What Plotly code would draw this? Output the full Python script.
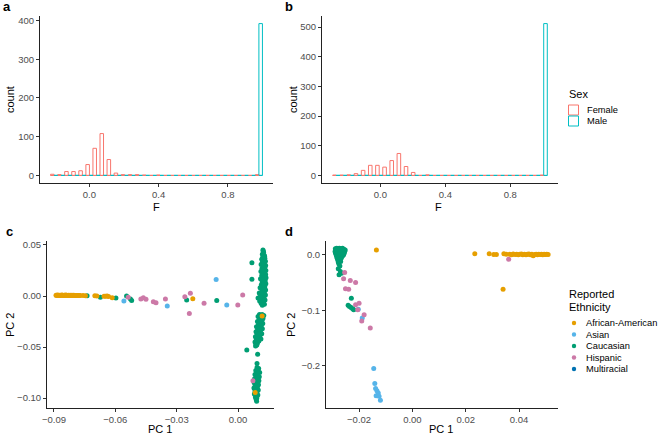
import numpy as np
import plotly.graph_objects as go

W, H = 659, 436
FONT = "Liberation Sans, Arial, Helvetica, sans-serif"
FEMALE_C = "#F8766D"
MALE_C = "#00BFC4"

# ---------------- Panel a / b : histograms of F (30 bins, dodged by Sex) -------------
a_lo, a_hi = -0.224, 0.999          # bar extent
a_female = [3, 2, 10, 10, 12, 28, 70, 108, 41, 6, 2, 2, 2, 1, 0, 1, 0, 0, 0, 0,
            0, 0, 0, 0, 0, 0, 0, 0, 0, 2]
a_male = [0] * 29 + [392]

b_lo, b_hi = -0.294, 1.028
b_female = [1, 1, 2, 6, 17, 34, 34, 28, 50, 74, 30, 10, 0, 2, 0, 0, 0, 0, 0, 0,
            0, 0, 0, 0, 0, 0, 0, 0, 0, 1]
b_male = [0] * 29 + [512]

# ---------------- Panel c : PC1 vs PC2 ---------------------------------------------
c_cauc = [
    # upper vertical cluster
    (0.0122, 0.045), (0.0125, 0.043), (0.0119, 0.041), (0.0128, 0.040), (0.0121, 0.038),
    (0.0131, 0.037), (0.0116, 0.036), (0.0126, 0.035), (0.0134, 0.034), (0.0119, 0.033),
    (0.0128, 0.032), (0.0113, 0.031), (0.0135, 0.030), (0.0123, 0.029), (0.0131, 0.028),
    (0.0117, 0.027), (0.0126, 0.026), (0.0136, 0.025), (0.0112, 0.024), (0.0129, 0.023),
    (0.0121, 0.022), (0.0135, 0.021), (0.0116, 0.020), (0.0127, 0.019), (0.0137, 0.018),
    (0.0110, 0.017), (0.0124, 0.016), (0.0133, 0.015), (0.0118, 0.014), (0.0128, 0.013),
    (0.0136, 0.012), (0.0114, 0.011), (0.0122, 0.010), (0.0131, 0.009), (0.0108, 0.008),
    (0.0126, 0.007), (0.0135, 0.006), (0.0117, 0.005), (0.0129, 0.004), (0.0104, 0.003),
    (0.0121, 0.002), (0.0134, 0.001), (0.0112, 0.000), (0.0127, -0.001), (0.0098, -0.002),
    (0.0118, -0.003), (0.0132, -0.004), (0.0106, -0.005), (0.0124, -0.006), (0.0113, -0.007),
    (0.0129, -0.008), (0.0119, -0.009), (0.0123, 0.044), (0.0130, 0.039), (0.0124, 0.031),
    (0.0120, 0.025), (0.0132, 0.019), (0.0125, 0.011), (0.0115, 0.003), (0.0108, -0.001),
    # middle cluster
    (0.0105, -0.018), (0.0118, -0.018), (0.0126, -0.019), (0.0098, -0.020), (0.0112, -0.021),
    (0.0122, -0.022), (0.0104, -0.023), (0.0117, -0.024), (0.0095, -0.025), (0.0110, -0.026),
    (0.0121, -0.027), (0.0100, -0.028), (0.0114, -0.029), (0.0090, -0.030), (0.0106, -0.031),
    (0.0119, -0.032), (0.0096, -0.033), (0.0110, -0.034), (0.0088, -0.035), (0.0103, -0.036),
    (0.0116, -0.037), (0.0093, -0.038), (0.0107, -0.039), (0.0085, -0.040), (0.0099, -0.041),
    (0.0112, -0.042), (0.0089, -0.043), (0.0102, -0.044), (0.0083, -0.045), (0.0095, -0.046),
    (0.0087, -0.047), (0.0092, -0.048), (0.0086, -0.049), (0.0109, -0.025), (0.0101, -0.032),
    (0.0094, -0.040), (0.0113, -0.020), (0.0108, -0.037),
    # lower cluster
    (0.0093, -0.070), (0.0101, -0.071), (0.0087, -0.073), (0.0098, -0.074), (0.0106, -0.075),
    (0.0090, -0.076), (0.0083, -0.077), (0.0096, -0.078), (0.0104, -0.079), (0.0088, -0.080),
    (0.0081, -0.081), (0.0094, -0.082), (0.0102, -0.083), (0.0086, -0.084), (0.0079, -0.085),
    (0.0092, -0.086), (0.0100, -0.087), (0.0084, -0.088), (0.0095, -0.089), (0.0078, -0.090),
    (0.0089, -0.091), (0.0099, -0.092), (0.0083, -0.093), (0.0093, -0.094), (0.0087, -0.095),
    (0.0080, -0.096), (0.0097, -0.097), (0.0090, -0.098), (0.0085, -0.099), (0.0092, -0.100),
    (0.0088, -0.101), (0.0091, -0.103), (0.0097, -0.080), (0.0091, -0.088), (0.0096, -0.072),
    # scattered
    (0.0068, 0.0326), (0.0068, 0.0165), (0.0043, -0.053), (0.0096, -0.057), (0.0093, -0.066),
    (-0.0738, 0.0002), (-0.0673, -0.0013), (-0.0597, -0.0020), (-0.0545, 0.0000),
    (-0.0526, -0.0030), (-0.0520, -0.0043), (-0.0251, -0.0039), (-0.0104, -0.0045),
]
c_afam = [
    (-0.0890, 0.0008), (-0.0886, 0.0006), (-0.0883, 0.0009), (-0.0879, 0.0007), (-0.0874, 0.0005),
    (-0.0871, 0.0008), (-0.0867, 0.0006), (-0.0862, 0.0009), (-0.0858, 0.0007), (-0.0855, 0.0005),
    (-0.0850, 0.0008), (-0.0846, 0.0006), (-0.0843, 0.0009), (-0.0838, 0.0007), (-0.0834, 0.0005),
    (-0.0829, 0.0008), (-0.0825, 0.0006), (-0.0821, 0.0007), (-0.0817, 0.0005), (-0.0812, 0.0008),
    (-0.0808, 0.0006), (-0.0803, 0.0007), (-0.0799, 0.0005), (-0.0795, 0.0006), (-0.0790, 0.0004),
    (-0.0786, 0.0006), (-0.0781, 0.0005), (-0.0777, 0.0004), (-0.0772, 0.0006), (-0.0758, 0.0004),
    (-0.0746, 0.0003), (-0.0700, 0.0003), (-0.0690, 0.0001), (-0.0655, -0.0002), (-0.0648, -0.0003),
    (-0.0640, -0.0001), (-0.0633, -0.0004), (-0.0615, -0.0016), (-0.0221, -0.0026),
    (0.0118, -0.0195), (0.0084, -0.0945),
]
c_asian = [(-0.0558, -0.0048), (-0.0346, -0.0097), (-0.0107, 0.0161), (-0.0055, -0.0087)]
c_hisp = [
    (-0.0537, -0.0013), (-0.0475, -0.0029), (-0.0463, -0.0016), (-0.0450, -0.0032),
    (-0.0414, -0.0055), (-0.0401, -0.0065), (-0.0355, -0.0029), (-0.0260, -0.0007),
    (-0.0233, 0.0026), (-0.0238, -0.0171), (-0.0166, -0.0071), (-0.0001, -0.0087),
    (0.0023, 0.0010), (0.0073, -0.0830),
]
c_multi = [(0.0120, 0.0200), (0.0100, -0.0300)]

# ---------------- Panel d : PC1 vs PC2 ---------------------------------------------
d_cauc = [
    (-0.0289, 0.011), (-0.0284, 0.012), (-0.0279, 0.011), (-0.0274, 0.012), (-0.0268, 0.011),
    (-0.0262, 0.012), (-0.0257, 0.010), (-0.0252, 0.009), (-0.0287, 0.009), (-0.0281, 0.008),
    (-0.0276, 0.009), (-0.0270, 0.008), (-0.0264, 0.009), (-0.0259, 0.007), (-0.0254, 0.006),
    (-0.0290, 0.006), (-0.0285, 0.005), (-0.0279, 0.006), (-0.0273, 0.005), (-0.0267, 0.006),
    (-0.0261, 0.004), (-0.0256, 0.003), (-0.0288, 0.003), (-0.0282, 0.002), (-0.0276, 0.003),
    (-0.0270, 0.002), (-0.0264, 0.001), (-0.0258, 0.000), (-0.0286, 0.000), (-0.0280, -0.001),
    (-0.0274, 0.000), (-0.0268, -0.001), (-0.0262, -0.002), (-0.0284, -0.003), (-0.0278, -0.004),
    (-0.0272, -0.003), (-0.0266, -0.005), (-0.0282, -0.006), (-0.0276, -0.007), (-0.0270, -0.008),
    (-0.0280, -0.009), (-0.0274, -0.011), (-0.0269, -0.012), (-0.0278, -0.013), (-0.0283, 0.010),
    (-0.0265, 0.010), (-0.0271, 0.004), (-0.0259, 0.002),
    (-0.0276, -0.016), (-0.0272, -0.020), (-0.0278, -0.025), (-0.0270, -0.030),
    (-0.0275, -0.036), (-0.0266, -0.033),
    (-0.0229, -0.078), (-0.0241, -0.091), (-0.0236, -0.093), (-0.0230, -0.095),
    (-0.0224, -0.097), (-0.0220, -0.099),
]
d_afam = [
    (-0.0135, 0.009), (0.0234, 0.0018), (0.0288, 0.0018), (0.0305, 0.0006), (0.0315, 0.0006),
    (0.0343, 0.0018), (0.0352, 0.0010), (0.0365, 0.0012), (0.0372, 0.0004), (0.0378, 0.0014),
    (0.0385, 0.0006), (0.0391, 0.0012), (0.0397, 0.0002), (0.0403, 0.0010), (0.0409, 0.0016),
    (0.0414, 0.0004), (0.0420, 0.0012), (0.0426, 0.0002), (0.0431, 0.0010), (0.0437, 0.0014),
    (0.0442, 0.0004), (0.0448, 0.0010), (0.0453, -0.0015), (0.0459, 0.0008), (0.0464, 0.0013),
    (0.0469, 0.0003), (0.0474, 0.0010), (0.0479, 0.0006), (0.0484, 0.0012), (0.0489, 0.0004),
    (0.0494, 0.0010), (0.0499, 0.0006), (0.0504, 0.0011), (0.0509, 0.0007), (0.0340, -0.0620),
]
d_asian = [
    (-0.0203, -0.098), (-0.0188, -0.114), (-0.0145, -0.205), (-0.0141, -0.232),
    (-0.0138, -0.241), (-0.0133, -0.245), (-0.0128, -0.249), (-0.0136, -0.254),
    (-0.0125, -0.255), (-0.0120, -0.262),
]
d_hisp = [
    (-0.0254, -0.032), (-0.0258, -0.043), (-0.0233, -0.046), (-0.0213, -0.050),
    (-0.0251, -0.061), (-0.0239, -0.062), (-0.0213, -0.090), (-0.0200, -0.087),
    (-0.0205, -0.099), (-0.0181, -0.108), (-0.0190, -0.119), (-0.0158, -0.132),
    (0.0361, -0.008),
]
d_multi = [(-0.0275, 0.002)]

ETHNICITIES = ["African-American", "Asian", "Caucasian", "Hispanic", "Multiracial"]
ETH_COLORS = ["#E69F00", "#56B4E9", "#009E73", "#CC79A7", "#0072B2"]

# ---------------- helpers ----------------------------------------------------------
def px(x):
    return x / W


def py(y):
    return 1 - y / H


fig = go.Figure()


def add_hist(lo, hi, female, male, xa, ya):
    edges = np.linspace(lo, hi, len(female) + 1)
    centers = (edges[:-1] + edges[1:]) / 2
    hw = (edges[1] - edges[0]) / 2
    for counts, col, off, name in [(female, FEMALE_C, -hw, "Female"), (male, MALE_C, 0.0, "Male")]:
        fig.add_trace(go.Bar(
            x=centers, y=counts, width=hw, offset=off, name=name,
            marker=dict(color="rgba(255,255,255,0)", line=dict(color=col, width=1)),
            xaxis=xa, yaxis=ya, showlegend=False, hoverinfo="skip"))
        bx, by = [], []
        for c in centers:
            bx += [c + off, c + off + hw, None]
            by += [0, 0, None]
        fig.add_trace(go.Scatter(x=bx, y=by, mode="lines", line=dict(color=col, width=1),
                                 xaxis=xa, yaxis=ya, showlegend=False, hoverinfo="skip"))


add_hist(a_lo, a_hi, a_female, a_male, "x", "y")
add_hist(b_lo, b_hi, b_female, b_male, "x2", "y2")


def add_scatter(groups, xa, ya):
    # draw order: Multiracial, Caucasian, African-American, Asian, Hispanic
    for idx in [4, 2, 0, 1, 3]:
        pts = groups[idx]
        fig.add_trace(go.Scatter(
            x=[p[0] for p in pts], y=[p[1] for p in pts], mode="markers",
            marker=dict(color=ETH_COLORS[idx], size=5, line=dict(width=0)),
            name=ETHNICITIES[idx], xaxis=xa, yaxis=ya, showlegend=False))


add_scatter([c_afam, c_asian, c_cauc, c_hisp, c_multi], "x3", "y3")
add_scatter([d_afam, d_asian, d_cauc, d_hisp, d_multi], "x4", "y4")


def axis(dom_px, rng, tickvals, fmt, anchor, vertical=False):
    if vertical:
        dom = [py(dom_px[1]), py(dom_px[0])]
    else:
        dom = [px(dom_px[0]), px(dom_px[1])]
    return dict(domain=dom, range=rng, tickvals=tickvals, tickformat=fmt, anchor=anchor,
                showline=True, linecolor="#222", linewidth=0.9, ticks="outside",
                ticklen=3, tickwidth=0.9, tickcolor="#333", showgrid=False, zeroline=False,
                tickfont=dict(family=FONT, size=9.5, color="#4d4d4d"), fixedrange=True)


layout = dict(
    width=W, height=H, margin=dict(l=0, r=0, t=0, b=0, autoexpand=False),
    paper_bgcolor="white", plot_bgcolor="white", barmode="overlay", showlegend=False,
    font=dict(family=FONT, color="black"),
    xaxis=axis((40, 273), [-0.285, 1.060], [0.0, 0.4, 0.8], ".1f", "y"),
    yaxis=axis((16, 183), [-19.6, 411.6], [0, 100, 200, 300, 400], "d", "x", True),
    xaxis2=axis((322, 558), [-0.360, 1.094], [0.0, 0.4, 0.8], ".1f", "y2"),
    yaxis2=axis((16, 183), [-25.6, 537.6], [0, 100, 200, 300, 400, 500], "d", "x2", True),
    xaxis3=axis((47, 274), [-0.0934, 0.0176], [-0.09, -0.06, -0.03, 0.0], ".2f", "y3"),
    yaxis3=axis((241, 408), [-0.1097, 0.0539], [-0.10, -0.05, 0.0, 0.05], ".2f", "x3", True),
    xaxis4=axis((326, 558), [-0.0324, 0.0546], [-0.02, 0.0, 0.02, 0.04], ".2f", "y4"),
    yaxis4=axis((241, 408), [-0.276, 0.025], [-0.2, -0.1, 0.0], ".1f", "x4", True),
)
fig.update_layout(**layout)

ann = []


def text(x, y, s, size=11, bold=False, angle=0, xanchor="center", color="black"):
    ann.append(dict(x=px(x), y=py(y), xref="paper", yref="paper", text=("<b>%s</b>" % s) if bold else s,
                    showarrow=False, xanchor=xanchor, yanchor="middle", textangle=angle,
                    font=dict(family=FONT, size=size, color=color)))


# panel letters
text(1, 6, "a", 13, True, xanchor="left")
text(283, 6, "b", 13, True, xanchor="left")
text(4, 231, "c", 13, True, xanchor="left")
text(283, 231, "d", 13, True, xanchor="left")
# axis titles
text(156, 207, "F")
text(438, 207, "F")
text(10, 100, "count", angle=-90)
text(293, 100, "count", angle=-90)
text(160, 429, "PC 1")
text(441, 429, "PC 1")
text(10, 325, "PC 2", angle=-90)
text(291, 325, "PC 2", angle=-90)

# legend: Sex
shapes = []
text(567, 94, "Sex", 11, xanchor="left")
for i, (lab, col) in enumerate([("Female", FEMALE_C), ("Male", MALE_C)]):
    yc = 110 + i * 11
    shapes.append(dict(type="rect", xref="paper", yref="paper", x0=px(568.5), x1=px(578.5),
                       y0=py(yc + 5), y1=py(yc - 5), line=dict(color=col, width=1),
                       fillcolor="white"))
    text(585, yc, lab, 9.3, xanchor="left")

# legend: Reported Ethnicity
text(567, 294, "Reported", 11, xanchor="left")
text(567, 306.5, "Ethnicity", 11, xanchor="left")
for i, (lab, col) in enumerate(zip(ETHNICITIES, ETH_COLORS)):
    yc = 323 + i * 11.5
    r = 2.2
    shapes.append(dict(type="circle", xref="paper", yref="paper", x0=px(574 - r), x1=px(574 + r),
                       y0=py(yc + r), y1=py(yc - r), line=dict(width=0), fillcolor=col))
    text(584, yc, lab, 9.3, xanchor="left")

fig.update_layout(annotations=ann, shapes=shapes)
fig.write_html("out.html", config={"displayModeBar": False},
               post_script="document.body.style.margin='0px';document.body.style.overflow='hidden';")
